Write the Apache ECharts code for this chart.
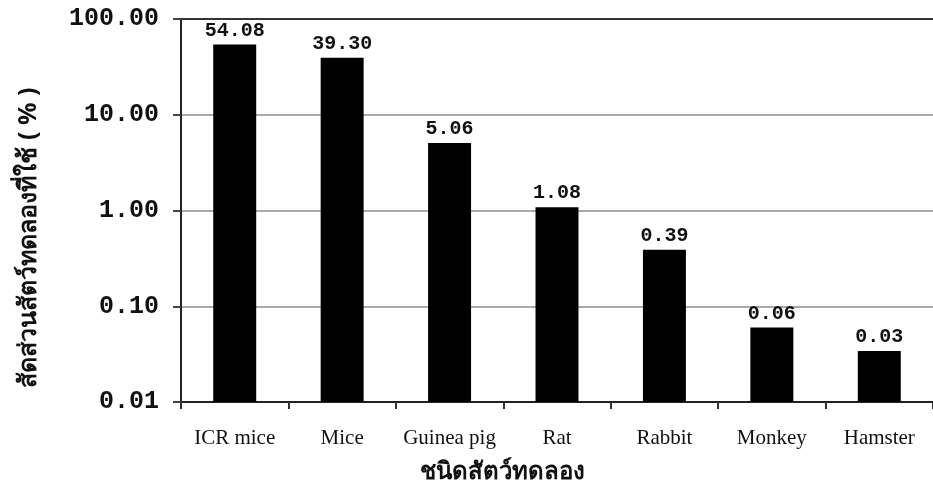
<!DOCTYPE html>
<html>
<head>
<meta charset="utf-8">
<script src="https://cdn.jsdelivr.net/npm/echarts@6/dist/echarts.min.js"></script>
<style>
  html, body { margin: 0; padding: 0; background: #fff; }
  #chart { width: 933px; height: 489px; }
</style>
</head>
<body>
<div id="chart"></div>
<script>
const categories = ['ICR mice', 'Mice', 'Guinea pig', 'Rat', 'Rabbit', 'Monkey', 'Hamster']
const percentUsed = [54.08, 39.30, 5.06, 1.08, 0.39, 0.06, 0.034]
const yTicks = [0.01, 0.1, 1, 10, 100]

// log axis bars grow from 1, so stack on a tiny invisible base to make them start at the bottom
const baseValues = categories.map(() => 1e-9)

const chart = echarts.init(document.getElementById('chart'))

const numFont = '"Liberation Mono", "DejaVu Sans Mono", monospace'

const option = {
  animation: false,
  grid: { left: 181, right: -5, top: 19, bottom: 82 },
  xAxis: [
    {
      type: 'category',
      data: categories,
      name: 'ชนิดสัตว์ทดลอง',
      nameLocation: 'middle',
      nameGap: 58,
      nameTextStyle: {
        fontSize: 24, fontWeight: 'bold', color: '#111',
        fontFamily: '"Noto Sans", sans-serif',
        padding: [0, 110, 0, 0]
      },
      axisLine: { lineStyle: { color: '#222', width: 2 } },
      axisTick: { show: true, interval: 0, length: 7, lineStyle: { color: '#333', width: 2 } },
      axisLabel: {
        interval: 0,
        hideOverlap: false,
        fontSize: 21,
        color: '#111',
        fontFamily: '"Liberation Serif", "Times New Roman", serif',
        margin: 26
      }
    },
    {
      type: 'category',
      data: categories,
      position: 'top',
      axisLine: { lineStyle: { color: '#333', width: 2 } },
      axisTick: { show: false },
      axisLabel: { show: false }
    }
  ],
  yAxis: {
    type: 'log',
    logBase: 10,
    min: yTicks[0],
    max: yTicks[yTicks.length - 1],
    name: 'สัดส่วนสัตว์ทดลองที่ใช้ ( % )',
    nameLocation: 'middle',
    nameGap: 140,
    nameTextStyle: {
      fontSize: 25, fontWeight: 'bold', color: '#111',
      fontFamily: '"Noto Sans", sans-serif',
      padding: [0, 54, 0, 0]
    },
    axisLine: { show: true, lineStyle: { color: '#222', width: 2 } },
    axisTick: { show: true, length: 8, lineStyle: { color: '#444', width: 2 } },
    axisLabel: {
      fontSize: 25,
      fontWeight: 'bold',
      color: '#111',
      fontFamily: numFont,
      margin: 22,
      formatter: v => Number(v).toFixed(2)
    },
    splitLine: { show: true, lineStyle: { color: '#aaa', width: 2 } }
  },
  series: [
    {
      type: 'bar',
      stack: 'share',
      data: baseValues,
      barWidth: '40%',
      itemStyle: { color: 'rgba(0,0,0,0)' },
      silent: true
    },
    {
      type: 'bar',
      stack: 'share',
      data: percentUsed,
      barWidth: '40%',
      itemStyle: { color: '#000' },
      label: {
        show: true,
        position: 'top',
        distance: 4,
        fontSize: 20,
        fontWeight: 'bold',
        color: '#111',
        fontFamily: numFont,
        formatter: p => p.value.toFixed(2)
      }
    }
  ]
}

chart.setOption(option)
</script>
</body>
</html>
